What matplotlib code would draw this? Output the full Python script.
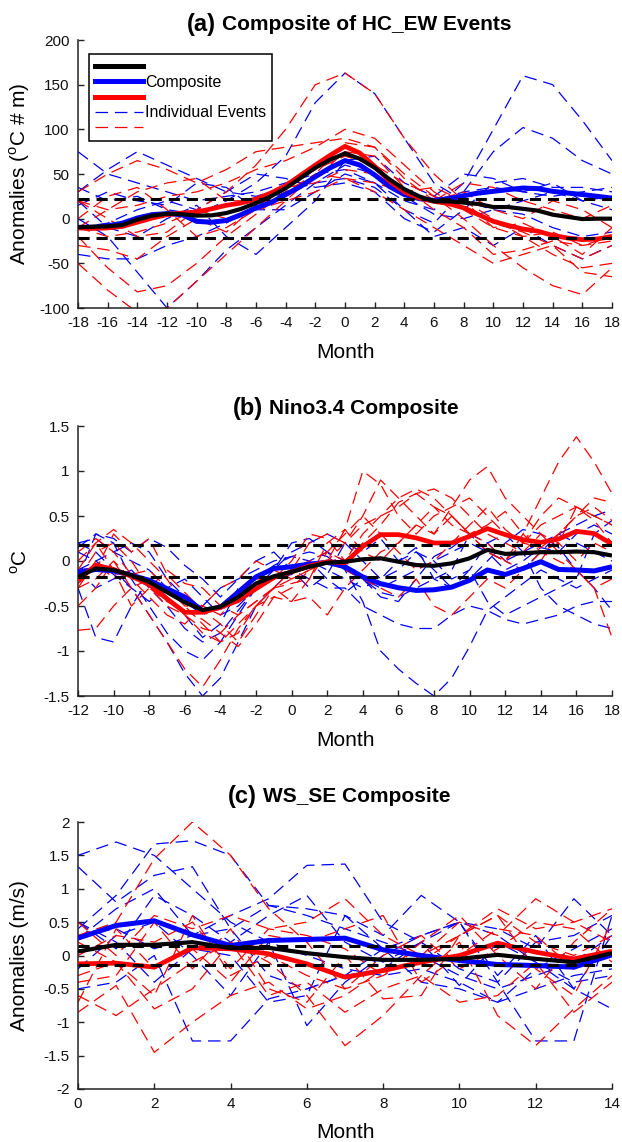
import matplotlib
matplotlib.use('Agg')
import matplotlib.pyplot as plt
from matplotlib.lines import Line2D
import numpy as np

plt.rcParams['font.family'] = ['Liberation Sans', 'DejaVu Sans']
plt.rcParams['mathtext.fontset'] = 'custom'
plt.rcParams['mathtext.rm'] = 'Liberation Sans'
plt.rcParams['axes.unicode_minus'] = False
plt.rcParams['lines.scale_dashes'] = False

# ---------------- Panel (a): HC_EW ----------------
a_months = list(range(-18, 19))
a_black = [-9.7, -9, -8.6, -7, -1, 3.4, 5.6, 5, 3.4, 3.7, 6.3, 11, 17.5, 25, 34, 45.5, 57, 66, 73,
           67, 57, 44, 33, 25, 19.4, 19.4, 18, 16.4, 13, 13, 11, 9, 4.5, 2, -0.4, 0, 0]
a_blue = [-9.7, -9.7, -8, -5, 0.7, 4.5, 5.6, 4.5, -3, -4, -2, 4.5, 12, 18, 27, 36, 47, 57, 65,
          60, 49, 36, 27, 22.4, 20.5, 22.4, 25.7, 28.7, 30.6, 32.5, 34.3, 33.6, 30.6, 28.7, 27, 25, 23]
a_red = [-10.4, -11, -10.4, -8.6, -4, 0.7, 4.5, 6.3, 7.5, 11, 15, 17.5, 22, 28.7, 37, 48.5, 60, 71, 81,
         73.5, 58.6, 42, 30, 23, 19.4, 16.8, 12, 4.5, -3, -7.5, -11.6, -14, -18.7, -21.6, -23.5, -22.8, -19.8]
a_thresh = 22
a_ev_months = list(range(-18, 19, 2))
a_blue_events = [
    [35, 20, 25, 10, 5, 20, 40, 70, 130, 163, 140, 90, 40, 20, 10, 5, -10, -20, -15],
    [75, 50, 40, 30, 20, 25, 30, 40, 50, 55, 40, 20, 10, 40, 100, 160, 150, 110, 65],
    [-40, -45, -45, -30, -20, -5, 15, 30, 40, 45, 35, 10, -5, 30, 75, 102, 90, 65, 50],
    [0, -20, -60, -100, -70, -35, -10, 15, 40, 60, 50, 25, 5, 0, 10, 20, 30, 20, 10],
    [30, 55, 75, 60, 45, 30, 25, 35, 55, 75, 60, 30, 20, 30, 35, 30, 25, 30, 35],
    [15, 30, 20, 15, 40, 35, 10, 10, 30, 50, 40, 10, -20, -10, -30, -10, -30, -45, -30],
    [-10, -5, 10, 20, 10, 30, 50, 45, 35, 40, 30, 0, -15, 10, 40, 45, 35, 35, 30],
    [20, -10, -20, 0, 15, -20, -40, -10, 20, 65, 70, 40, 25, 50, 45, 30, 40, 20, 25],
]
a_red_events = [
    [-10, -20, -15, -5, 10, 30, 60, 100, 150, 163, 140, 90, 50, 20, 0, -20, -40, -55, -50],
    [20, 10, 15, 25, 30, 40, 55, 65, 80, 100, 90, 60, 30, 10, -10, -20, -15, -30, -20],
    [-50, -80, -105, -100, -70, -40, -10, 20, 50, 85, 80, 50, 25, 0, -30, -55, -75, -85, -55],
    [-20, -55, -82, -75, -50, -20, 5, 30, 50, 45, 30, 10, -10, -30, -50, -40, -30, -60, -65],
    [30, 50, 65, 55, 40, 55, 75, 80, 85, 90, 80, 45, 20, 30, 10, 0, 20, 10, -10],
    [0, 25, 35, 10, -20, -10, 10, 40, 55, 70, 60, 40, 25, 15, -5, -15, -30, -45, -30],
    [-30, -35, -45, -20, 0, -15, 15, 25, 45, 75, 70, 35, 10, -10, -40, -35, -25, -30, -25],
    [-10, 10, 30, 40, 45, 20, 20, 35, 40, 55, 50, 30, 20, 40, 35, 20, 10, 0, 15],
    [20, 0, -20, -15, 10, 0, 10, 20, 30, 45, 40, 30, 35, 20, -10, -5, -20, -40, -10],
]

# ---------------- Panel (b): Nino3.4 ----------------
b_months = list(range(-12, 19))
b_black = [-0.177, -0.083, -0.10, -0.158, -0.233, -0.346, -0.459, -0.545, -0.507, -0.40, -0.25,
           -0.17, -0.12, -0.064, -0.019, -0.008, 0.019, 0.03, -0.008, -0.045, -0.053, -0.026, 0.03,
           0.124, 0.079, 0.086, 0.098, 0.098, 0.105, 0.098, 0.06]
b_blue = [-0.12, -0.094, -0.11, -0.158, -0.214, -0.308, -0.40, -0.553, -0.515, -0.346, -0.177,
          -0.083, -0.064, -0.034, -0.015, -0.064, -0.177, -0.252, -0.297, -0.327, -0.32, -0.29, -0.214,
          -0.10, -0.15, -0.083, -0.008, -0.094, -0.10, -0.11, -0.064]
b_red = [-0.214, -0.045, -0.094, -0.17, -0.26, -0.42, -0.57, -0.57, -0.515, -0.44, -0.308,
         -0.184, -0.12, -0.056, -0.008, -0.019, 0.162, 0.293, 0.293, 0.256, 0.20, 0.20, 0.274,
         0.36, 0.293, 0.237, 0.207, 0.244, 0.33, 0.305, 0.188]
b_thresh = 0.175
b_blue_events = [
    [0.2, 0.1, -0.1, -0.3, -0.6, -0.9, -1.25, -1.5, -1.3, -0.9, -0.5, -0.3, -0.1, 0.0, 0.1, 0.0,
     -0.2, -0.3, -0.2, -0.1, 0.0, 0.1, 0.2, 0.1, 0.0, 0.1, 0.2, 0.3, 0.4, 0.5, 0.57],
    [-0.1, 0.0, 0.1, 0.2, 0.1, -0.2, -0.4, -0.5, -0.3, -0.2, -0.1, 0.0, 0.05, 0.1, 0.05, -0.1,
     -0.45, -1.0, -1.2, -1.36, -1.5, -1.3, -0.95, -0.55, -0.4, -0.25, -0.1, -0.2, -0.3, -0.2, -0.1],
    [0.15, 0.3, 0.2, -0.2, -0.5, -0.8, -1.0, -1.1, -0.9, -0.6, -0.3, -0.2, -0.1, -0.2, -0.3, -0.3,
     -0.5, -0.6, -0.7, -0.75, -0.75, -0.6, -0.5, -0.55, -0.65, -0.7, -0.65, -0.6, -0.5, -0.45, -0.45],
    [-0.3, -0.85, -0.9, -0.5, -0.2, -0.4, -0.6, -0.85, -0.7, -0.3, -0.2, -0.1, 0.1, 0.2, 0.3, 0.2,
     0.0, -0.2, -0.1, 0.1, 0.0, -0.2, -0.1, 0.2, 0.3, 0.1, -0.3, -0.5, -0.6, -0.7, -0.75],
    [0.2, 0.25, 0.1, 0.0, -0.1, -0.3, -0.2, -0.4, -0.6, -0.5, -0.3, -0.1, 0.2, 0.25, 0.1, -0.1,
     -0.2, -0.35, -0.4, -0.3, -0.2, -0.1, 0.3, 0.2, 0.0, -0.1, 0.1, 0.3, 0.2, 0.1, 0.0],
    [-0.2, 0.3, 0.25, 0.1, 0.25, 0.15, -0.05, -0.2, -0.4, -0.2, 0.0, 0.1, -0.1, -0.3, -0.15, 0.2,
     0.1, 0.25, 0.0, 0.15, -0.2, -0.3, -0.1, -0.45, -0.6, -0.5, -0.4, -0.3, -0.2, 0.3, 0.45],
    [-0.1, -0.3, -0.2, -0.1, -0.3, -0.5, -0.75, -0.9, -0.8, -0.55, -0.3, -0.2, -0.15, 0.0, -0.1, -0.2,
     -0.3, -0.2, 0.0, 0.1, -0.1, -0.3, -0.2, 0.0, 0.2, 0.35, 0.3, 0.15, -0.1, -0.3, -0.55],
    [0.1, 0.0, -0.15, -0.3, -0.45, -0.3, -0.45, -0.6, -0.5, -0.35, -0.2, -0.05, 0.05, 0.0, -0.2, -0.35,
     -0.2, -0.4, -0.45, -0.2, 0.05, 0.15, 0.3, 0.1, -0.1, 0.0, 0.15, 0.1, 0.3, 0.4, 0.3],
]
b_red_events = [
    [-0.3, -0.2, 0.0, -0.2, -0.4, -0.6, -0.7, -0.5, -0.3, -0.2, 0.0, -0.1, -0.2, -0.1, 0.0, 0.2,
     0.4, 0.5, 0.6, 0.75, 0.6, 0.4, 0.3, 0.1, 0.0, 0.3, 0.7, 1.1, 1.38, 1.1, 0.75],
    [-0.2, 0.1, 0.2, 0.0, -0.3, -0.5, -0.6, -0.75, -0.8, -0.6, -0.45, -0.3, -0.2, -0.1, 0.0, 0.35,
     1.0, 0.85, 0.5, 0.3, 0.5, 0.6, 0.7, 0.5, 0.3, 0.2, 0.4, 0.5, 0.6, 0.5, 0.4],
    [-0.5, -0.3, 0.0, -0.3, -0.6, -0.9, -1.2, -1.4, -1.1, -0.75, -0.5, -0.3, -0.1, 0.0, 0.1, 0.0,
     0.3, 0.5, 0.7, 0.8, 0.7, 0.5, 0.3, 0.1, 0.0, 0.2, 0.5, 0.7, 0.6, 0.5, 0.4],
    [-0.77, -0.75, -0.5, -0.3, -0.2, -0.4, -0.6, -0.8, -0.9, -0.7, -0.5, -0.3, -0.1, 0.2, 0.3, 0.2,
     0.5, 0.9, 0.7, 0.5, 0.3, 0.6, 0.9, 1.05, 0.7, 0.5, 0.3, 0.1, -0.1, -0.3, -0.85],
    [0.0, 0.2, 0.35, 0.2, 0.0, -0.2, -0.5, -0.7, -0.9, -0.8, -0.5, -0.4, -0.45, -0.2, 0.1, 0.3,
     0.5, 0.3, 0.1, -0.1, 0.0, 0.2, 0.4, 0.6, 0.35, 0.2, 0.15, 0.3, 0.5, 0.7, 0.65],
    [-0.1, 0.2, -0.1, -0.5, -0.3, -0.1, -0.25, -0.3, -0.5, -0.6, -0.45, -0.3, -0.45, -0.4, -0.6, -0.3,
     -0.1, 0.1, 0.2, 0.4, 0.6, 0.5, 0.3, 0.4, 0.55, 0.3, 0.1, 0.0, -0.1, -0.3, -0.2],
    [-0.25, -0.1, 0.3, 0.1, 0.25, -0.15, -0.35, -0.55, -0.7, -0.9, -0.6, -0.3, -0.25, -0.2, 0.2, 0.35,
     0.1, 0.0, 0.2, 0.4, 0.3, 0.5, 0.3, 0.2, 0.0, -0.1, 0.1, 0.2, 0.6, 0.45, 0.2],
    [0.1, 0.25, 0.1, -0.15, -0.3, -0.45, -0.55, -0.65, -0.8, -0.95, -0.7, -0.4, -0.3, -0.1, 0.0, -0.1,
     -0.2, -0.3, -0.4, -0.2, -0.5, -0.6, -0.4, -0.2, -0.3, -0.1, 0.0, 0.3, 0.5, 0.6, 0.45],
    [-0.3, 0.0, -0.2, -0.15, -0.1, -0.3, -0.5, -0.5, -0.6, -0.4, -0.2, -0.2, 0.0, 0.3, 0.25, 0.0,
     0.2, 0.4, 0.65, 0.75, 0.8, 0.7, 0.5, 0.3, 0.2, 0.1, 0.3, 0.2, 0.0, 0.2, 0.1],
]

# ---------------- Panel (c): WS_SE ----------------
c_months = list(range(0, 15))
c_black = [0.06, 0.16, 0.16, 0.20, 0.11, 0.115, 0.035, -0.025, -0.065, -0.065, -0.05, 0.01, -0.05, -0.10, 0.035]
c_blue = [0.26, 0.45, 0.52, 0.31, 0.15, 0.225, 0.24, 0.26, 0.085, 0.0, -0.075, -0.135, -0.15, -0.175, 0.01]
c_red = [-0.125, -0.115, -0.175, 0.115, 0.10, 0.025, -0.125, -0.325, -0.225, -0.10, 0.0, 0.185, 0.05, -0.05, 0.065]
c_thresh = 0.145
c_blue_events = [
    [1.5, 1.7, 1.5, 1.0, 0.5, 0.2, 0.0, -0.2, -0.3, -0.2, -0.4, -0.7, -0.5, -0.3, -0.2],
    [0.4, 0.9, 1.67, 1.72, 1.5, 0.75, 0.6, 0.4, 0.2, 0.0, -0.3, -0.5, -0.3, -0.1, 0.3],
    [1.33, 0.8, 1.2, 1.33, 0.4, -0.3, -0.5, -0.3, -0.2, 0.2, 0.5, 0.4, 0.1, 0.85, 0.3],
    [-0.5, -0.4, 0.0, -1.28, -1.28, -0.65, -0.5, -0.3, 0.1, 0.3, 0.5, 0.3, -0.1, -0.5, -0.8],
    [0.3, 0.4, 0.1, 0.3, 0.6, 0.85, 1.35, 1.37, 0.5, 0.2, -0.2, -0.4, 0.2, 0.3, 0.6],
    [0.5, 0.2, -0.4, 0.1, 0.0, -0.7, -0.6, 0.6, 0.3, 0.9, 0.5, -0.4, -1.28, -1.28, 0.6],
    [0.25, 0.7, 1.0, 0.3, 0.4, 0.75, 0.7, 0.6, 0.1, -0.4, -0.5, -0.7, -0.2, 0.1, 0.4],
    [-0.2, 0.3, 0.5, 0.0, -0.6, 0.2, -1.05, -0.4, 0.0, 0.3, 0.5, -0.3, 0.3, -0.5, 0.3],
    [0.5, 0.1, 0.9, 0.6, 0.2, 0.6, 0.9, 0.2, -0.1, 0.2, -0.45, 0.2, -0.1, -0.4, -0.3],
]
c_red_events = [
    [0.3, 0.5, 1.45, 2.0, 1.5, 0.7, 0.2, -0.5, -0.3, 0.0, 0.3, 0.6, 0.2, 0.0, 0.3],
    [-0.85, -0.45, -1.45, -1.0, -0.6, -0.4, -0.8, -0.6, -0.2, -0.1, 0.3, 0.7, 0.4, 0.5, 0.7],
    [-0.6, -0.9, -0.5, -0.1, 0.2, -0.1, -0.6, -1.35, -0.9, -0.3, 0.2, -0.9, -1.35, -0.8, -0.3],
    [0.5, 0.0, 0.6, 0.4, 0.6, 0.4, 0.5, 0.85, 0.3, 0.0, 0.5, 0.3, 0.85, 0.5, 0.2],
    [-0.3, -0.1, -0.8, -0.5, 0.2, -0.6, -0.4, -0.85, -0.5, -0.3, -0.7, -0.6, -0.1, -0.85, -0.4],
    [0.0, 0.3, 0.2, 0.5, -0.2, 0.4, 0.3, 0.1, -0.3, 0.2, 0.6, 0.0, -0.5, 0.2, 0.7],
    [-0.4, -0.3, 0.5, -0.2, 0.4, -0.5, -0.7, 0.0, -0.65, -0.6, 0.3, 0.6, -0.2, -0.6, 0.5],
    [0.2, -0.1, -0.6, 0.6, -0.3, 0.0, -0.3, -0.5, 0.0, 0.3, -0.2, 0.1, 0.5, 0.4, -0.1],
    [-0.7, 0.4, -0.2, 0.1, -0.4, 0.3, 0.2, 0.4, 0.6, -0.4, 0.0, 0.4, 0.3, -0.2, 0.0],
]

# ---------------- Drawing ----------------
BLUE = (0, 0, 1)
RED = (1, 0, 0)
EV_DASH = (9, 5)
TH_DASH = (8, 5)

fig = plt.figure(figsize=(6.22, 11.42), dpi=100)
fig.patch.set_facecolor('white')

L, W = 78 / 622, 534 / 622
H = 1142.0


def make_ax(top_px, bot_px):
    return fig.add_axes([L, 1 - bot_px / H, W, (bot_px - top_px) / H])


def draw(ax, months, ev_x, blue_ev, red_ev, blk, blu, rd, th, xlim, ylim, xticks, yticks):
    for ev in blue_ev:
        ax.plot(ev_x, ev, color=BLUE, lw=0.9, dashes=EV_DASH, zorder=2)
    for ev in red_ev:
        ax.plot(ev_x, ev, color=RED, lw=0.9, dashes=EV_DASH, zorder=2)
    ax.plot(months, blu, color=BLUE, lw=3.6, zorder=4, solid_capstyle='butt')
    ax.plot(months, rd, color=RED, lw=3.4, zorder=4, solid_capstyle='butt')
    ax.plot(months, blk, color='black', lw=3.0, zorder=5, solid_capstyle='butt')
    ax.axhline(th, color='black', lw=2.2, dashes=TH_DASH, zorder=6)
    ax.axhline(-th, color='black', lw=2.2, dashes=TH_DASH, zorder=6)
    ax.set_xlim(*xlim)
    ax.set_ylim(*ylim)
    ax.set_xticks(xticks)
    ax.set_yticks(yticks)
    ax.set_xticklabels(['{:g}'.format(v) for v in xticks])
    ax.set_yticklabels(['{:g}'.format(v) for v in yticks])
    for s in ['top', 'right']:
        ax.spines[s].set_visible(False)
    for s in ['left', 'bottom']:
        ax.spines[s].set_linewidth(1.1)
        ax.spines[s].set_color('#222222')
    ax.tick_params(direction='in', length=4, width=1.0, labelsize=11, pad=6, colors='#222222',
                   labelcolor='#111111')


def title(ax, tag, text, ypos, xsplit):
    ax.text(xsplit, ypos, tag, transform=ax.transAxes, ha='right', va='center',
            fontsize=17, fontweight='bold')
    ax.text(xsplit + 0.012, ypos, text, transform=ax.transAxes, ha='left', va='center',
            fontsize=15, fontweight='bold')


# (a)
ax1 = make_ax(40, 308)
draw(ax1, a_months, a_ev_months, a_blue_events, a_red_events, a_black, a_blue, a_red, a_thresh,
     (-18, 18), (-100, 200), list(range(-18, 19, 2)), list(range(-100, 201, 50)))
title(ax1, '(a)', 'Composite of HC_EW Events', 1.058, 0.258)
ax1.set_ylabel(r'Anomalies ($^{\rm o}$C # m)', fontsize=15)
ax1.set_xlabel('Month', fontsize=15)

handles = [Line2D([], [], color='black', lw=3.6),
           Line2D([], [], color=BLUE, lw=3.6),
           Line2D([], [], color=RED, lw=3.6),
           Line2D([], [], color=BLUE, lw=0.9, dashes=EV_DASH),
           Line2D([], [], color=RED, lw=0.9, dashes=EV_DASH)]
labels = ['', 'Composite', '', 'Individual Events', '']
leg = ax1.legend(handles, labels, loc='upper left', bbox_to_anchor=(0.0206, 0.948),
                 borderaxespad=0, fontsize=11.5, frameon=True, fancybox=False,
                 edgecolor='black', framealpha=1, labelspacing=0.02, handlelength=3.0,
                 handletextpad=0.15, borderpad=0.35)
leg.get_frame().set_linewidth(1.1)
leg.set_zorder(10)

# (b)
ax2 = make_ax(426, 696)
draw(ax2, b_months, b_months, b_blue_events, b_red_events, b_black, b_blue, b_red, b_thresh,
     (-12, 18), (-1.5, 1.5), list(range(-12, 19, 2)), [-1.5, -1, -0.5, 0, 0.5, 1, 1.5])
title(ax2, '(b)', 'Nino3.4 Composite', 1.063, 0.346)
ax2.set_ylabel(r'$^{\rm o}$C', fontsize=15)
ax2.set_xlabel('Month', fontsize=15)

# (c)
ax3 = make_ax(822, 1089)
draw(ax3, c_months, c_months, c_blue_events, c_red_events, c_black, c_blue, c_red, c_thresh,
     (0, 14), (-2, 2), list(range(0, 15, 2)), [-2, -1.5, -1, -0.5, 0, 0.5, 1, 1.5, 2])
title(ax3, '(c)', 'WS_SE Composite', 1.097, 0.335)
ax3.set_ylabel('Anomalies (m/s)', fontsize=15)
ax3.set_xlabel('Month', fontsize=15)

for ax, yoff in [(ax1, -45 / 268), (ax2, -44 / 270), (ax3, -43 / 267)]:
    ax.xaxis.set_label_coords(0.5, yoff)
    ax.xaxis.label.set_va('center')
    ax.yaxis.set_label_coords(-58 / 534, 0.5)
    ax.yaxis.label.set_va('center')

fig.savefig('out.png', dpi=100, facecolor='white')
